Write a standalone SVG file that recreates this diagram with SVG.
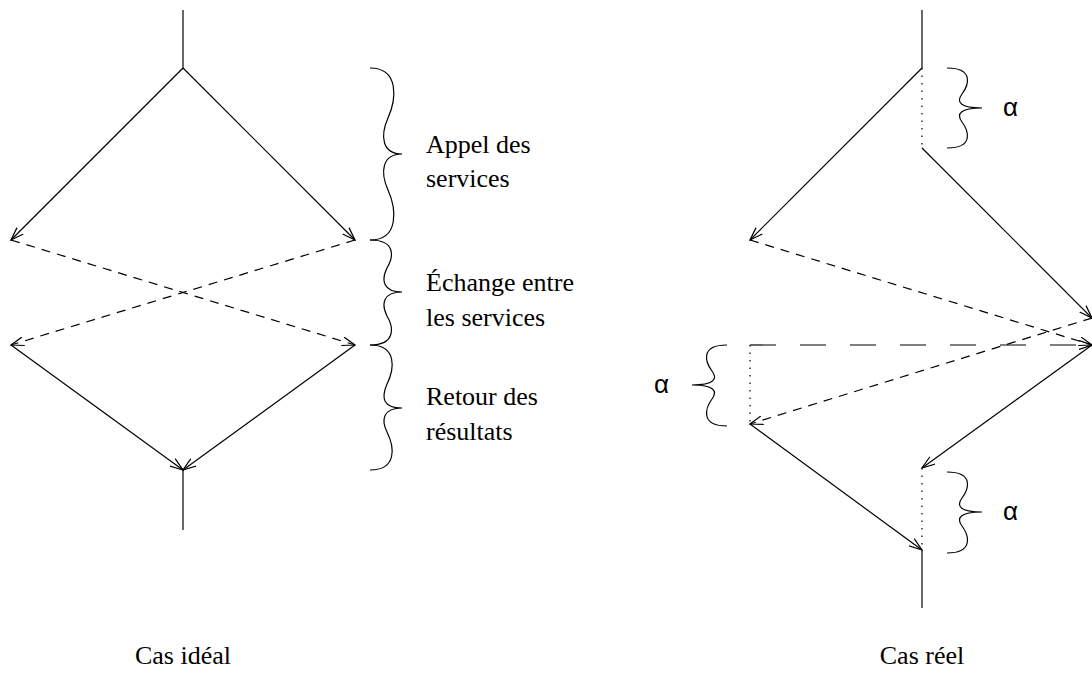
<svg xmlns="http://www.w3.org/2000/svg" width="1092" height="675" viewBox="0 0 1092 675">
<style>
.l{stroke:#000;stroke-width:1.2;fill:none}
.d{stroke-dasharray:9 7}
.ld{stroke-dasharray:26 24}
.dt{stroke-dasharray:1.5 6}
.t{font-family:"Liberation Serif",serif;font-size:26px;fill:#000}
.a{font-family:"Liberation Sans",sans-serif;font-size:26px;fill:#000}
</style>
<defs>
<marker id="ah" viewBox="0 0 14 10" refX="13" refY="5" markerWidth="14" markerHeight="10" markerUnits="userSpaceOnUse" orient="auto">
<path d="M0,0.5 L13,5 L0,9.5" fill="none" stroke="#000" stroke-width="1.2"/>
</marker>
</defs>
<g id="connectors">
<line class="l" x1="183" y1="10" x2="183" y2="68"/>
<line class="l" x1="183" y1="68" x2="11" y2="240" marker-end="url(#ah)"/>
<line class="l" x1="183" y1="68" x2="355" y2="240" marker-end="url(#ah)"/>
<line class="l d" x1="11" y1="240" x2="355" y2="345" marker-end="url(#ah)"/>
<line class="l d" x1="355" y1="240" x2="11" y2="345" marker-end="url(#ah)"/>
<line class="l" x1="11" y1="345" x2="183" y2="470" marker-end="url(#ah)"/>
<line class="l" x1="355" y1="345" x2="183" y2="470" marker-end="url(#ah)"/>
<line class="l" x1="183" y1="470" x2="183" y2="530"/>

<line class="l" x1="922" y1="10" x2="922" y2="68"/>
<line class="l dt" x1="922" y1="68" x2="922" y2="148"/>
<line class="l" x1="922" y1="68" x2="750" y2="240" marker-end="url(#ah)"/>
<line class="l" x1="922" y1="148" x2="1092" y2="318" marker-end="url(#ah)"/>
<line class="l d" x1="750" y1="240" x2="1092" y2="345" marker-end="url(#ah)"/>
<line class="l ld" x1="750" y1="345" x2="1092" y2="345" marker-end="url(#ah)"/>
<line class="l dt" x1="750" y1="345" x2="750" y2="424"/>
<line class="l d" x1="1092" y1="318" x2="750" y2="424" marker-end="url(#ah)"/>
<line class="l" x1="750" y1="424" x2="922" y2="550" marker-end="url(#ah)"/>
<line class="l" x1="1092" y1="345" x2="922" y2="468" marker-end="url(#ah)"/>
<line class="l dt" x1="922" y1="468" x2="922" y2="550"/>
<line class="l" x1="922" y1="550" x2="922" y2="608"/>
</g>
<g id="brace-appel">
<path class="l" d="M370,68 C400,68 396,100 388,118 C380,136 382,154 402,154 C382,154 380,172 388,190 C396,208 400,240 370,240"/>
<text class="t" x="426" y="153">Appel des</text>
<text class="t" x="426" y="187">services</text>
</g>
<g id="brace-echange">
<path class="l" d="M370,240 C397,240 393,258 387,268 C381,280 383,292 402,292 C383,292 381,304 387,316 C393,326 397,345 370,345"/>
<text class="t" x="426" y="291">Échange entre</text>
<text class="t" x="426" y="326">les services</text>
</g>
<g id="brace-retour">
<path class="l" d="M370,345 C398,345 394,370 387,384 C381,398 383,408 402,408 C383,408 381,420 387,432 C394,446 398,470 370,470"/>
<text class="t" x="426" y="405">Retour des</text>
<text class="t" x="426" y="440">résultats</text>
</g>
<g id="alpha-top">
<path class="l" d="M947,68 C975,68 968,86 962,94 C956,102 960,108 982,108 C960,108 956,114 962,122 C968,130 975,148 947,148"/>
<text class="a" x="1003" y="116">α</text>
</g>
<g id="alpha-left">
<path class="l" d="M727,345 C699,345 706,363 712,371 C718,379 714,385 692,385 C714,385 718,391 712,399 C706,407 699,426 727,426"/>
<text class="a" x="654" y="393">α</text>
</g>
<g id="alpha-bottom">
<path class="l" d="M947,472 C975,472 968,490 962,498 C956,506 960,512 982,512 C960,512 956,518 962,526 C968,534 975,553 947,553"/>
<text class="a" x="1003" y="520">α</text>
</g>
<g id="captions">
<text class="t" x="183" y="664" text-anchor="middle">Cas idéal</text>
<text class="t" x="922" y="664" text-anchor="middle">Cas réel</text>
</g>
</svg>
